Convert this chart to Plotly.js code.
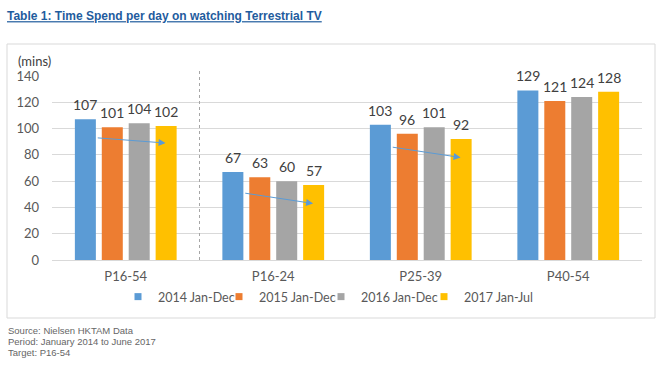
<!DOCTYPE html>
<html>
<head>
<meta charset="utf-8">
<script src="https://cdn.plot.ly/plotly-3.0.1.min.js"></script>
<style>html,body{margin:0;padding:0;background:#fff;}#chart{width:670px;height:367px;}</style>
</head>
<body>
<div id="chart"></div>
<script>
const categories = ["P16-54", "P16-24", "P25-39", "P40-54"];
const seriesNames = ["2014 Jan-Dec", "2015 Jan-Dec", "2016 Jan-Dec", "2017 Jan-Jul"];
const v2014 = [107, 67, 103, 129];
const v2015 = [101, 63, 96, 121];
const v2016 = [104, 60, 101, 124];
const v2017 = [102, 57, 92, 128];
const yTicks = [0, 20, 40, 60, 80, 100, 120, 140];
// trend arrows: category index, start value, end value
const arrowCats = [0, 1, 2];
const arrowFrom = [93, 51, 86];
const arrowTo = [89, 43, 78];
const footnotes = ["Source: Nielsen HKTAM Data", "Period: January 2014 to June 2017", "Target: P16-54"];

const colors = ["#5b9bd5", "#ed7d31", "#a5a5a5", "#ffc000"];
const allValues = [v2014, v2015, v2016, v2017];
const FONT = "Lato, 'Open Sans', sans-serif";
const BARGAP = 0.27, GROUPGAP = 0.22;
const legendIds = ["legend", "legend2", "legend3", "legend4"];

const traces = [];
allValues.forEach((vals, i) => {
  traces.push({
    type: "bar", name: seriesNames[i], x: categories, y: vals,
    marker: { color: colors[i] }, showlegend: false, legendgroup: "s" + i
  });
});
// legend entries with small square symbols, one legend per series
allValues.forEach((vals, i) => {
  traces.push({
    type: "scatter", mode: "markers", name: seriesNames[i], x: [null], y: [null],
    marker: { color: colors[i], symbol: "square", size: 7 }, showlegend: true,
    legendgroup: "s" + i, legend: legendIds[i]
  });
});

// plot area: x 52..642, y 76..260
const pl = 52, pr = 642, pt = 76, pb = 260;
const pw = pr - pl, ph = pb - pt;
const px = v => (v - pl) / pw;
const py = v => (pb - v) / ph;

const annotations = [];
// value labels above bars (positions derived from the bar layout)
const slot = (1 - BARGAP) / allValues.length;
allValues.forEach((vals, i) => {
  const off = -(1 - BARGAP) / 2 + slot * (i + 0.5);
  vals.forEach((v, c) => {
    annotations.push({
      xref: "x", yref: "y", x: c + off, y: v, yanchor: "bottom", yshift: 4,
      text: String(v), showarrow: false,
      font: { family: FONT, size: 14, color: "#404040" }
    });
  });
});
arrowCats.forEach((c, i) => {
  annotations.push({
    xref: "x", yref: "y", axref: "x", ayref: "y",
    x: c + 0.27, y: arrowTo[i],
    ax: c - 0.2, ay: arrowFrom[i],
    showarrow: true, arrowhead: 2, arrowsize: 1.4, arrowwidth: 1,
    arrowcolor: "#5b9bd5", text: ""
  });
});
annotations.push({
  xref: "paper", yref: "paper", x: px(16), y: py(61), xanchor: "left", yanchor: "middle",
  text: "(mins)", showarrow: false, font: { family: FONT, size: 13, color: "#404040" }
});
footnotes.forEach((t, i) => {
  annotations.push({
    xref: "paper", yref: "paper", x: px(6), y: py(330 + i * 11), xanchor: "left", yanchor: "middle",
    text: t, showarrow: false, font: { family: "'Liberation Sans', Arial, sans-serif", size: 9.5, color: "#666666" }
  });
});

const layout = {
  width: 670, height: 367,
  margin: { l: pl, r: 670 - pr, t: pt, b: 367 - pb, pad: 0 },
  paper_bgcolor: "#ffffff", plot_bgcolor: "#ffffff",
  title: {
    text: "<b>Table 1: Time Spend per day on watching Terrestrial TV</b>",
    xref: "container", yref: "container",
    x: 7 / 670, xanchor: "left", y: 1 - 16 / 367, yanchor: "middle",
    font: { family: "'Liberation Sans', Arial, sans-serif", size: 12, color: "#1f5c9e", lineposition: "under" }
  },
  barmode: "group", bargap: BARGAP, bargroupgap: GROUPGAP,
  showlegend: true,
  xaxis: {
    type: "category", showgrid: false, zeroline: false, showline: false,
    ticks: "", ticklabelstandoff: 7, range: [-0.5, 3.5],
    tickfont: { family: FONT, size: 13, color: "#595959" }
  },
  yaxis: {
    range: [0, 140], tickvals: yTicks, showgrid: true, gridcolor: "#d9d9d9", gridwidth: 1,
    zeroline: true, zerolinecolor: "#d9d9d9", zerolinewidth: 1, showline: false,
    ticks: "", ticklabelstandoff: 12,
    tickfont: { family: FONT, size: 13, color: "#595959" }
  },
  shapes: [
    { type: "rect", xref: "paper", yref: "paper", x0: px(7), x1: px(655), y0: py(318), y1: py(44),
      line: { color: "#d9d9d9", width: 1 }, fillcolor: "rgba(0,0,0,0)", layer: "below" },
    { type: "line", xref: "x", yref: "paper", x0: 0.5, x1: 0.5, y0: 0, y1: py(70),
      line: { color: "#a6a6a6", width: 1, dash: "dot" } }
  ],
  annotations: annotations
};
const legendTextStart = [158, 259, 361, 464];
legendIds.forEach((id, i) => {
  layout[id] = {
    orientation: "h", xref: "paper", yref: "paper",
    x: px(legendTextStart[i] - 40), xanchor: "left", y: py(297), yanchor: "middle",
    font: { family: FONT, size: 12.5, color: "#595959" },
    bgcolor: "rgba(0,0,0,0)", itemwidth: 30, itemclick: false
  };
});

Plotly.newPlot("chart", traces, layout, { displayModeBar: false, staticPlot: true });
</script>
</body>
</html>
